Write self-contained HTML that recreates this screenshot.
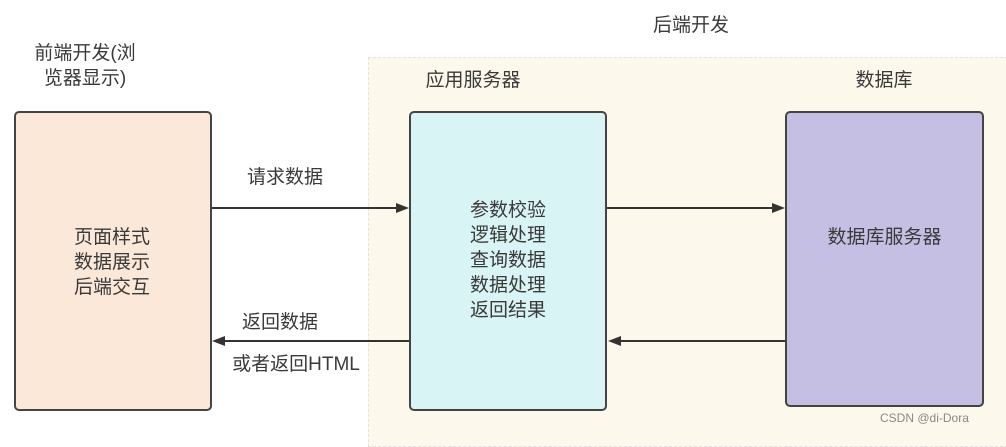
<!DOCTYPE html>
<html><head><meta charset="utf-8"><style>
body{margin:0;width:1006px;height:434px;background:#fff;position:relative;overflow:hidden;font-family:"Liberation Sans","Noto Sans CJK SC",sans-serif;color:#3a3a3a;}
.t{position:absolute;font-size:19px;line-height:25px;text-align:center;white-space:nowrap}
.b{position:absolute;border:2px solid #444;border-radius:5px;box-sizing:border-box}
</style></head><body>
<div style="position:absolute;left:368px;top:57px;width:650px;height:390px;background:#fcf8ec;border:1px dashed #e2e2e2;box-sizing:border-box"></div>
<div class="t" style="left:641px;top:13px;width:100px">后端开发</div>
<div class="t" style="left:20px;top:41px;width:130px">前端开发(浏<br>览器显示)</div>
<div class="t" style="left:408px;top:68px;width:130px">应用服务器</div>
<div class="t" style="left:834px;top:68px;width:100px">数据库</div>
<div class="b" style="left:14px;top:111px;width:198px;height:300px;background:#fbe8d8"></div>
<div class="b" style="left:409px;top:111px;width:198px;height:300px;background:#d9f4f4"></div>
<div class="b" style="left:785px;top:111px;width:199px;height:296px;background:#c6bfe4"></div>
<div class="t" style="left:13px;top:225px;width:198px">页面样式<br>数据展示<br>后端交互</div>
<div class="t" style="left:409px;top:198px;width:198px">参数校验<br>逻辑处理<br>查询数据<br>数据处理<br>返回结果</div>
<div class="t" style="left:785px;top:225px;width:199px">数据库服务器</div>
<div class="t" style="left:230px;top:165px;width:110px">请求数据</div>
<div class="t" style="left:225px;top:310px;width:110px">返回数据</div>
<div class="t" style="left:216px;top:352px;width:160px">或者返回HTML</div>
<div style="position:absolute;left:880px;top:411px;font-size:12px;color:#888">CSDN @di-Dora</div>
<svg width="1006" height="434" style="position:absolute;left:0;top:0">
<g stroke="#333" stroke-width="2" fill="#333">
<line x1="212" y1="208" x2="398" y2="208"/><polygon points="409,208 396,203 396,213" stroke="none"/>
<line x1="607" y1="208" x2="774" y2="208"/><polygon points="785,208 772,203 772,213" stroke="none"/>
<line x1="409" y1="341" x2="223" y2="341"/><polygon points="212,341 225,336 225,346" stroke="none"/>
<line x1="785" y1="341" x2="619" y2="341"/><polygon points="608,341 621,336 621,346" stroke="none"/>
</g></svg>
</body></html>
